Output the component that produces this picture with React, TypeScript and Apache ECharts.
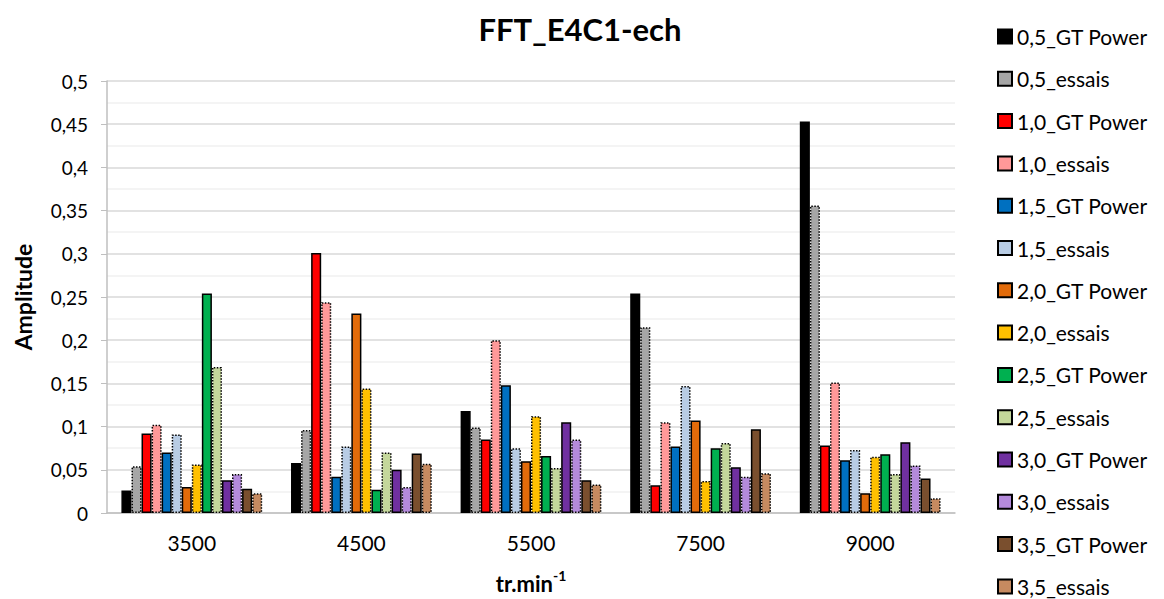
import React, { useEffect, useRef } from "react";
import * as echarts from "echarts";

const categories = ["3500", "4500", "5500", "7500", "9000"];

const s05GT = [0.026, 0.058, 0.118, 0.254, 0.453];
const s05Ess = [0.054, 0.096, 0.099, 0.215, 0.356];
const s10GT = [0.092, 0.301, 0.085, 0.032, 0.078];
const s10Ess = [0.102, 0.244, 0.2, 0.105, 0.151];
const s15GT = [0.07, 0.042, 0.148, 0.077, 0.061];
const s15Ess = [0.091, 0.077, 0.075, 0.147, 0.073];
const s20GT = [0.03, 0.231, 0.06, 0.107, 0.023];
const s20Ess = [0.056, 0.144, 0.112, 0.037, 0.065];
const s25GT = [0.254, 0.027, 0.066, 0.075, 0.068];
const s25Ess = [0.169, 0.07, 0.052, 0.081, 0.045];
const s30GT = [0.038, 0.05, 0.105, 0.053, 0.082];
const s30Ess = [0.045, 0.03, 0.085, 0.042, 0.055];
const s35GT = [0.028, 0.069, 0.038, 0.097, 0.04];
const s35Ess = [0.023, 0.057, 0.033, 0.046, 0.017];

const seriesNames = [
  "0,5_GT Power", "0,5_essais", "1,0_GT Power", "1,0_essais",
  "1,5_GT Power", "1,5_essais", "2,0_GT Power", "2,0_essais",
  "2,5_GT Power", "2,5_essais", "3,0_GT Power", "3,0_essais",
  "3,5_GT Power", "3,5_essais",
];
const seriesData = [
  s05GT, s05Ess, s10GT, s10Ess, s15GT, s15Ess, s20GT, s20Ess,
  s25GT, s25Ess, s30GT, s30Ess, s35GT, s35Ess,
];
const seriesColors = [
  "#000000", "#a6a6a6", "#ff0000", "#ff9999", "#0070c0", "#b8cce4",
  "#e26b0a", "#ffc000", "#00b050", "#c4d79b", "#7030a0", "#b48adb",
  "#7a4f2e", "#c68a60",
];
const yTicks = ["0", "0,05", "0,1", "0,15", "0,2", "0,25", "0,3", "0,35", "0,4", "0,45", "0,5"];

const FONT = "Lato, 'Open Sans', sans-serif";

export default function App() {
  const ref = useRef<HTMLDivElement>(null);
  useEffect(() => {
    if (!ref.current) return;
    const chart = echarts.init(ref.current, undefined, { renderer: "svg" });
    const series = seriesNames.map((name, i) => {
      const dotted = i % 2 === 1;
      return {
        name,
        type: "bar",
        data: seriesData[i],
        barGap: "0%",
        barCategoryGap: "17%",
        itemStyle: {
          color: seriesColors[i],
          borderColor: "#000000",
          borderWidth: 1.5,
          borderType: dotted ? "dotted" : "solid",
        },
      };
    });
    chart.setOption({
      animation: false,
      textStyle: { fontFamily: FONT },
      title: {
        text: "FFT_E4C1-ech",
        left: 575,
        top: 8,
        textAlign: "center",
        textStyle: { fontFamily: FONT, fontWeight: "bold", fontSize: 31, color: "#000" },
      },
      legend: {
        orient: "vertical",
        left: 997,
        top: 26,
        padding: 0,
        height: 580,
        icon: "rect",
        itemWidth: 14,
        itemHeight: 14,
        itemGap: 21.3,
        data: seriesNames,
        textStyle: { fontFamily: FONT, fontSize: 21, color: "#000" },
      },
      grid: { left: 107, right: 209, top: 81, bottom: 83, containLabel: false },
      xAxis: {
        type: "category",
        data: categories,
        axisLine: { lineStyle: { color: "#bfbfbf", width: 1.5 } },
        axisTick: { show: false },
        axisLabel: { fontFamily: FONT, fontSize: 21, color: "#000", margin: 19 },
        name: "{a|tr.min}{b|-1}",
        nameLocation: "middle",
        nameGap: 55,
        nameTextStyle: {
          rich: {
            a: { fontFamily: FONT, fontSize: 22, fontWeight: "bold", color: "#000", lineHeight: 26, verticalAlign: "bottom" },
            b: { fontFamily: FONT, fontSize: 14, fontWeight: "bold", color: "#000", lineHeight: 14, verticalAlign: "top" },
          },
        },
      },
      yAxis: {
        type: "value",
        min: 0,
        max: 0.5,
        interval: 0.05,
        axisLine: { show: true, lineStyle: { color: "#bfbfbf", width: 1.5 } },
        axisTick: { show: true, length: 6, lineStyle: { color: "#bfbfbf" } },
        axisLabel: {
          fontFamily: FONT,
          fontSize: 19,
          color: "#000",
          margin: 19,
          formatter: (v: number) => yTicks[Math.round(v / 0.05)] ?? "",
        },
        splitLine: { show: true, lineStyle: { color: "#d9d9d9", width: 1.5 } },
        minorTick: { show: false, splitNumber: 2 },
        minorSplitLine: { show: true, lineStyle: { color: "#f0f0f0", width: 1.5 } },
        name: "Amplitude",
        nameLocation: "middle",
        nameGap: 73,
        nameRotate: 90,
        nameTextStyle: { fontFamily: FONT, fontSize: 23, fontWeight: "bold", color: "#000" },
      },
      series,
    });
    return () => chart.dispose();
  }, []);
  return <div ref={ref} style={{ width: 1164, height: 599, position: "absolute", left: 0, top: 0, background: "#fff" }} />;
}
